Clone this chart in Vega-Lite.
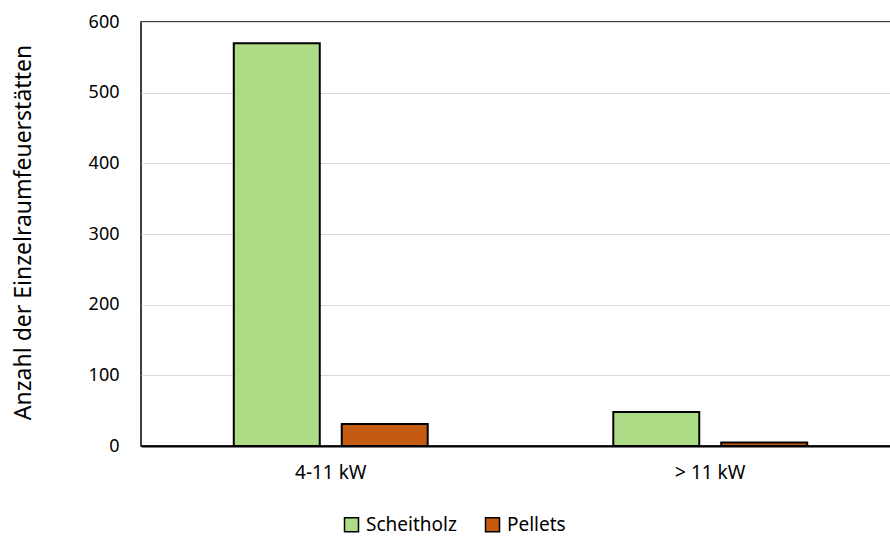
{
  "$schema": "https://vega.github.io/schema/vega-lite/v6.json",
  "autosize": {"type": "none"},
  "width": 759,
  "height": 424,
  "padding": {"left": 141, "top": 22, "right": 0, "bottom": 91},
  "background": "white",
  "config": {
    "font": "Noto Sans",
    "view": {"stroke": "black", "strokeWidth": 1.5},
    "axis": {"labelFont": "Noto Sans", "titleFont": "Noto Sans", "labelColor": "#000000", "titleColor": "#000000", "titleFontWeight": "normal"}
  },
  "data": {
    "values": [
      {"Leistung": "4-11 kW", "Brennstoff": "Scheitholz", "Anzahl": 570},
      {"Leistung": "4-11 kW", "Brennstoff": "Pellets", "Anzahl": 31},
      {"Leistung": "> 11 kW", "Brennstoff": "Scheitholz", "Anzahl": 48},
      {"Leistung": "> 11 kW", "Brennstoff": "Pellets", "Anzahl": 5}
    ]
  },
  "mark": {"type": "bar", "stroke": "black", "strokeWidth": 2},
  "encoding": {
    "x": {
      "field": "Leistung", "type": "nominal", "sort": ["4-11 kW", "> 11 kW"],
      "scale": {"paddingInner": 0.489, "paddingOuter": 0.2445},
      "axis": {"title": null, "labelAngle": 0, "ticks": false, "labelPadding": 17, "labelFontSize": 19, "domainColor": "black", "domainWidth": 2}
    },
    "xOffset": {
      "field": "Brennstoff", "type": "nominal", "sort": ["Scheitholz", "Pellets"],
      "scale": {"paddingInner": 0.2037, "paddingOuter": 0}
    },
    "y": {
      "field": "Anzahl", "type": "quantitative",
      "scale": {"domain": [0, 600], "nice": false},
      "axis": {
        "title": "Anzahl der Einzelraumfeuerstätten", "values": [0, 100, 200, 300, 400, 500, 600],
        "domain": false, "ticks": false, "labelPadding": 22, "labelFontSize": 18,
        "gridColor": "#d9d9d9", "gridWidth": 1,
        "titleFontSize": 23, "titleX": -118, "titleY": 210, "titleAngle": -90, "titleAlign": "center", "titleBaseline": "middle"
      }
    },
    "color": {
      "field": "Brennstoff", "type": "nominal",
      "scale": {"domain": ["Scheitholz", "Pellets"], "range": ["#ADDB86", "#C55A11"]},
      "legend": {
        "title": null, "orient": "none", "direction": "horizontal", "legendX": 201, "legendY": 493,
        "symbolType": "square", "symbolSize": 196, "symbolStrokeColor": "black", "symbolStrokeWidth": 1.5,
        "labelFontSize": 19, "labelColor": "#000000", "labelOffset": 5, "columnPadding": 25, "padding": 0
      }
    }
  }
}
